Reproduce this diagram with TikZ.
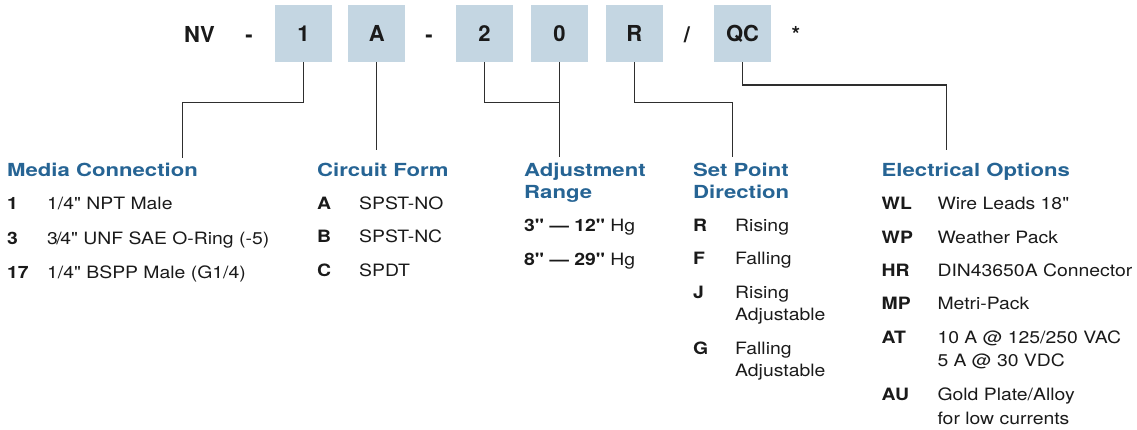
\documentclass[tikz,border=0pt]{standalone}
\usepackage{fontspec}
\setmainfont{TeX Gyre Heros}
\newfontfamily\widef[FakeStretch=1.14]{TeX Gyre Heros}
\newfontfamily\wideh[FakeStretch=1.23]{TeX Gyre Heros}
\definecolor{boxfill}{HTML}{C4D6E2}
\definecolor{headblue}{HTML}{266494}
\definecolor{ink}{HTML}{1A1A1A}
\definecolor{wirec}{HTML}{2E2E2E}
\begin{document}
\begin{tikzpicture}[x=1pt,y=-1pt,
 codebox/.style={fill=boxfill, minimum width=56.7pt, minimum height=56.7pt, inner sep=0pt, text=ink, font=\fontsize{22}{26}\selectfont\bfseries},
 toptext/.style={anchor=base, inner sep=0pt, text=ink, font=\fontsize{22}{26}\selectfont\bfseries},
 head/.style={anchor=base west, inner sep=0pt, text=headblue, font=\wideh\fontsize{18}{22}\selectfont\bfseries},
 code/.style={anchor=base west, inner sep=0pt, text=ink, font=\widef\fontsize{17}{22}\selectfont\bfseries},
 desc/.style={anchor=base west, inner sep=0pt, text=ink, font=\widef\fontsize{17}{22}\selectfont},
 wire/.style={draw=wirec, line width=1.2pt}]
\useasboundingbox (0,0) rectangle (1137,430);
% top row
\node[toptext] (nv) at (199.5,42.3) {NV};
\node[toptext] (d1) at (249,42.3) {-};
\node[codebox] (b1) at (303.4,33.5) {1};
\node[codebox] (bA) at (376.7,33.5) {A};
\node[toptext] (d2) at (429,42.3) {-};
\node[codebox] (b2) at (484.4,33.5) {2};
\node[codebox] (b0) at (559.5,33.5) {0};
\node[codebox] (bR) at (634.4,33.5) {R};
\node[toptext] (sl) at (687,42.3) {/};
\node[codebox] (bQ) at (742.5,33.5) {QC};
\node[toptext] (st) at (796,42.3) {*};
% connector bends and free ends
\coordinate (k1) at (182.7,102.5);
\coordinate (e1) at (182.7,158);
\coordinate (eA) at (376.7,150);
\coordinate (k3) at (559.5,102.5);
\coordinate (e3) at (559.5,157);
\coordinate (k4) at (732.7,102.5);
\coordinate (e4) at (732.7,157);
\coordinate (k5) at (946.7,85);
\coordinate (e5) at (946.7,150);
\draw[wire] (b1.south) |- (k1) -- (e1);
\draw[wire] (bA.south) -- (eA);
\draw[wire] (b2.south) |- (k3);
\draw[wire] (b0.south) -- (e3);
\draw[wire] (bR.south) |- (k4) -- (e4);
\draw[wire] (bQ.south) |- (k5) -- (e5);
% column 1
\node[head] (h1) at (7,176.5) {Media Connection};
\node[code] (c11) at (7,210) {1};
\node[desc] (t11) at (47,210) {1/4" NPT Male};
\node[code] (c12) at (7,244) {3};
\node[desc] (t12) at (47,244) {3\kern-1.5pt/\kern-1.5pt4" UNF SAE O-Ring (-5)};
\node[code] (c13) at (7,278) {17};
\node[desc] (t13) at (47,278) {1/4" BSPP Male (G1/4)};
% column 2
\node[head] (h2) at (317,176.5) {Circuit Form};
\node[code] (c21) at (317,210) {A};
\node[desc] (t21) at (359,210) {SPST-NO};
\node[code] (c22) at (317,243) {B};
\node[desc] (t22) at (359,243) {SPST-NC};
\node[code] (c23) at (317,276.5) {C};
\node[desc] (t23) at (359,276.5) {SPDT};
% column 3
\node[head] (h3a) at (524,177) {Adjustment};
\node[head] (h3b) at (524,199) {Range};
\node[desc] (t31) at (524,232) {\textbf{3" — 12"} Hg};
\node[desc] (t32) at (524,265.5) {\textbf{8" — 29"} Hg};
% column 4
\node[head] (h4a) at (693,176.7) {Set Point};
\node[head] (h4b) at (693,199) {Direction};
\node[code] (c41) at (693,232) {R};
\node[desc] (t41) at (735,232) {Rising};
\node[code] (c42) at (693,265) {F};
\node[desc] (t42) at (735,265) {Falling};
\node[code] (c43) at (693,298.5) {J};
\node[desc] (t43a) at (735,298.5) {Rising};
\node[desc] (t43b) at (735,320.5) {Adjustable};
\node[code] (c44) at (693,354) {G};
\node[desc] (t44a) at (735,354) {Falling};
\node[desc] (t44b) at (735,376.5) {Adjustable};
% column 5
\node[head] (h5) at (881.5,176.7) {Electrical Options};
\node[code] (c51) at (881.5,210) {WL};
\node[desc] (t51) at (937.3,210) {Wire Leads 18"};
\node[code] (c52) at (881.5,243.3) {WP};
\node[desc] (t52) at (937.3,243.3) {Weather Pack};
\node[code] (c53) at (881.5,276.7) {HR};
\node[desc] (t53) at (937.3,276.7) {DIN43650A Connector};
\node[code] (c54) at (881.5,309.3) {MP};
\node[desc] (t54) at (937.3,309.3) {Metri-Pack};
\node[code] (c55) at (881.5,343.3) {AT};
\node[desc] (t55a) at (937.3,343.3) {10 A @ 125/250 VAC};
\node[desc] (t55b) at (937.3,366.5) {5 A @ 30 VDC};
\node[code] (c56) at (881.5,400.7) {AU};
\node[desc] (t56a) at (937.3,400.7) {Gold Plate/Alloy};
\node[desc] (t56b) at (937.3,424) {for low currents};
\end{tikzpicture}
\end{document}
